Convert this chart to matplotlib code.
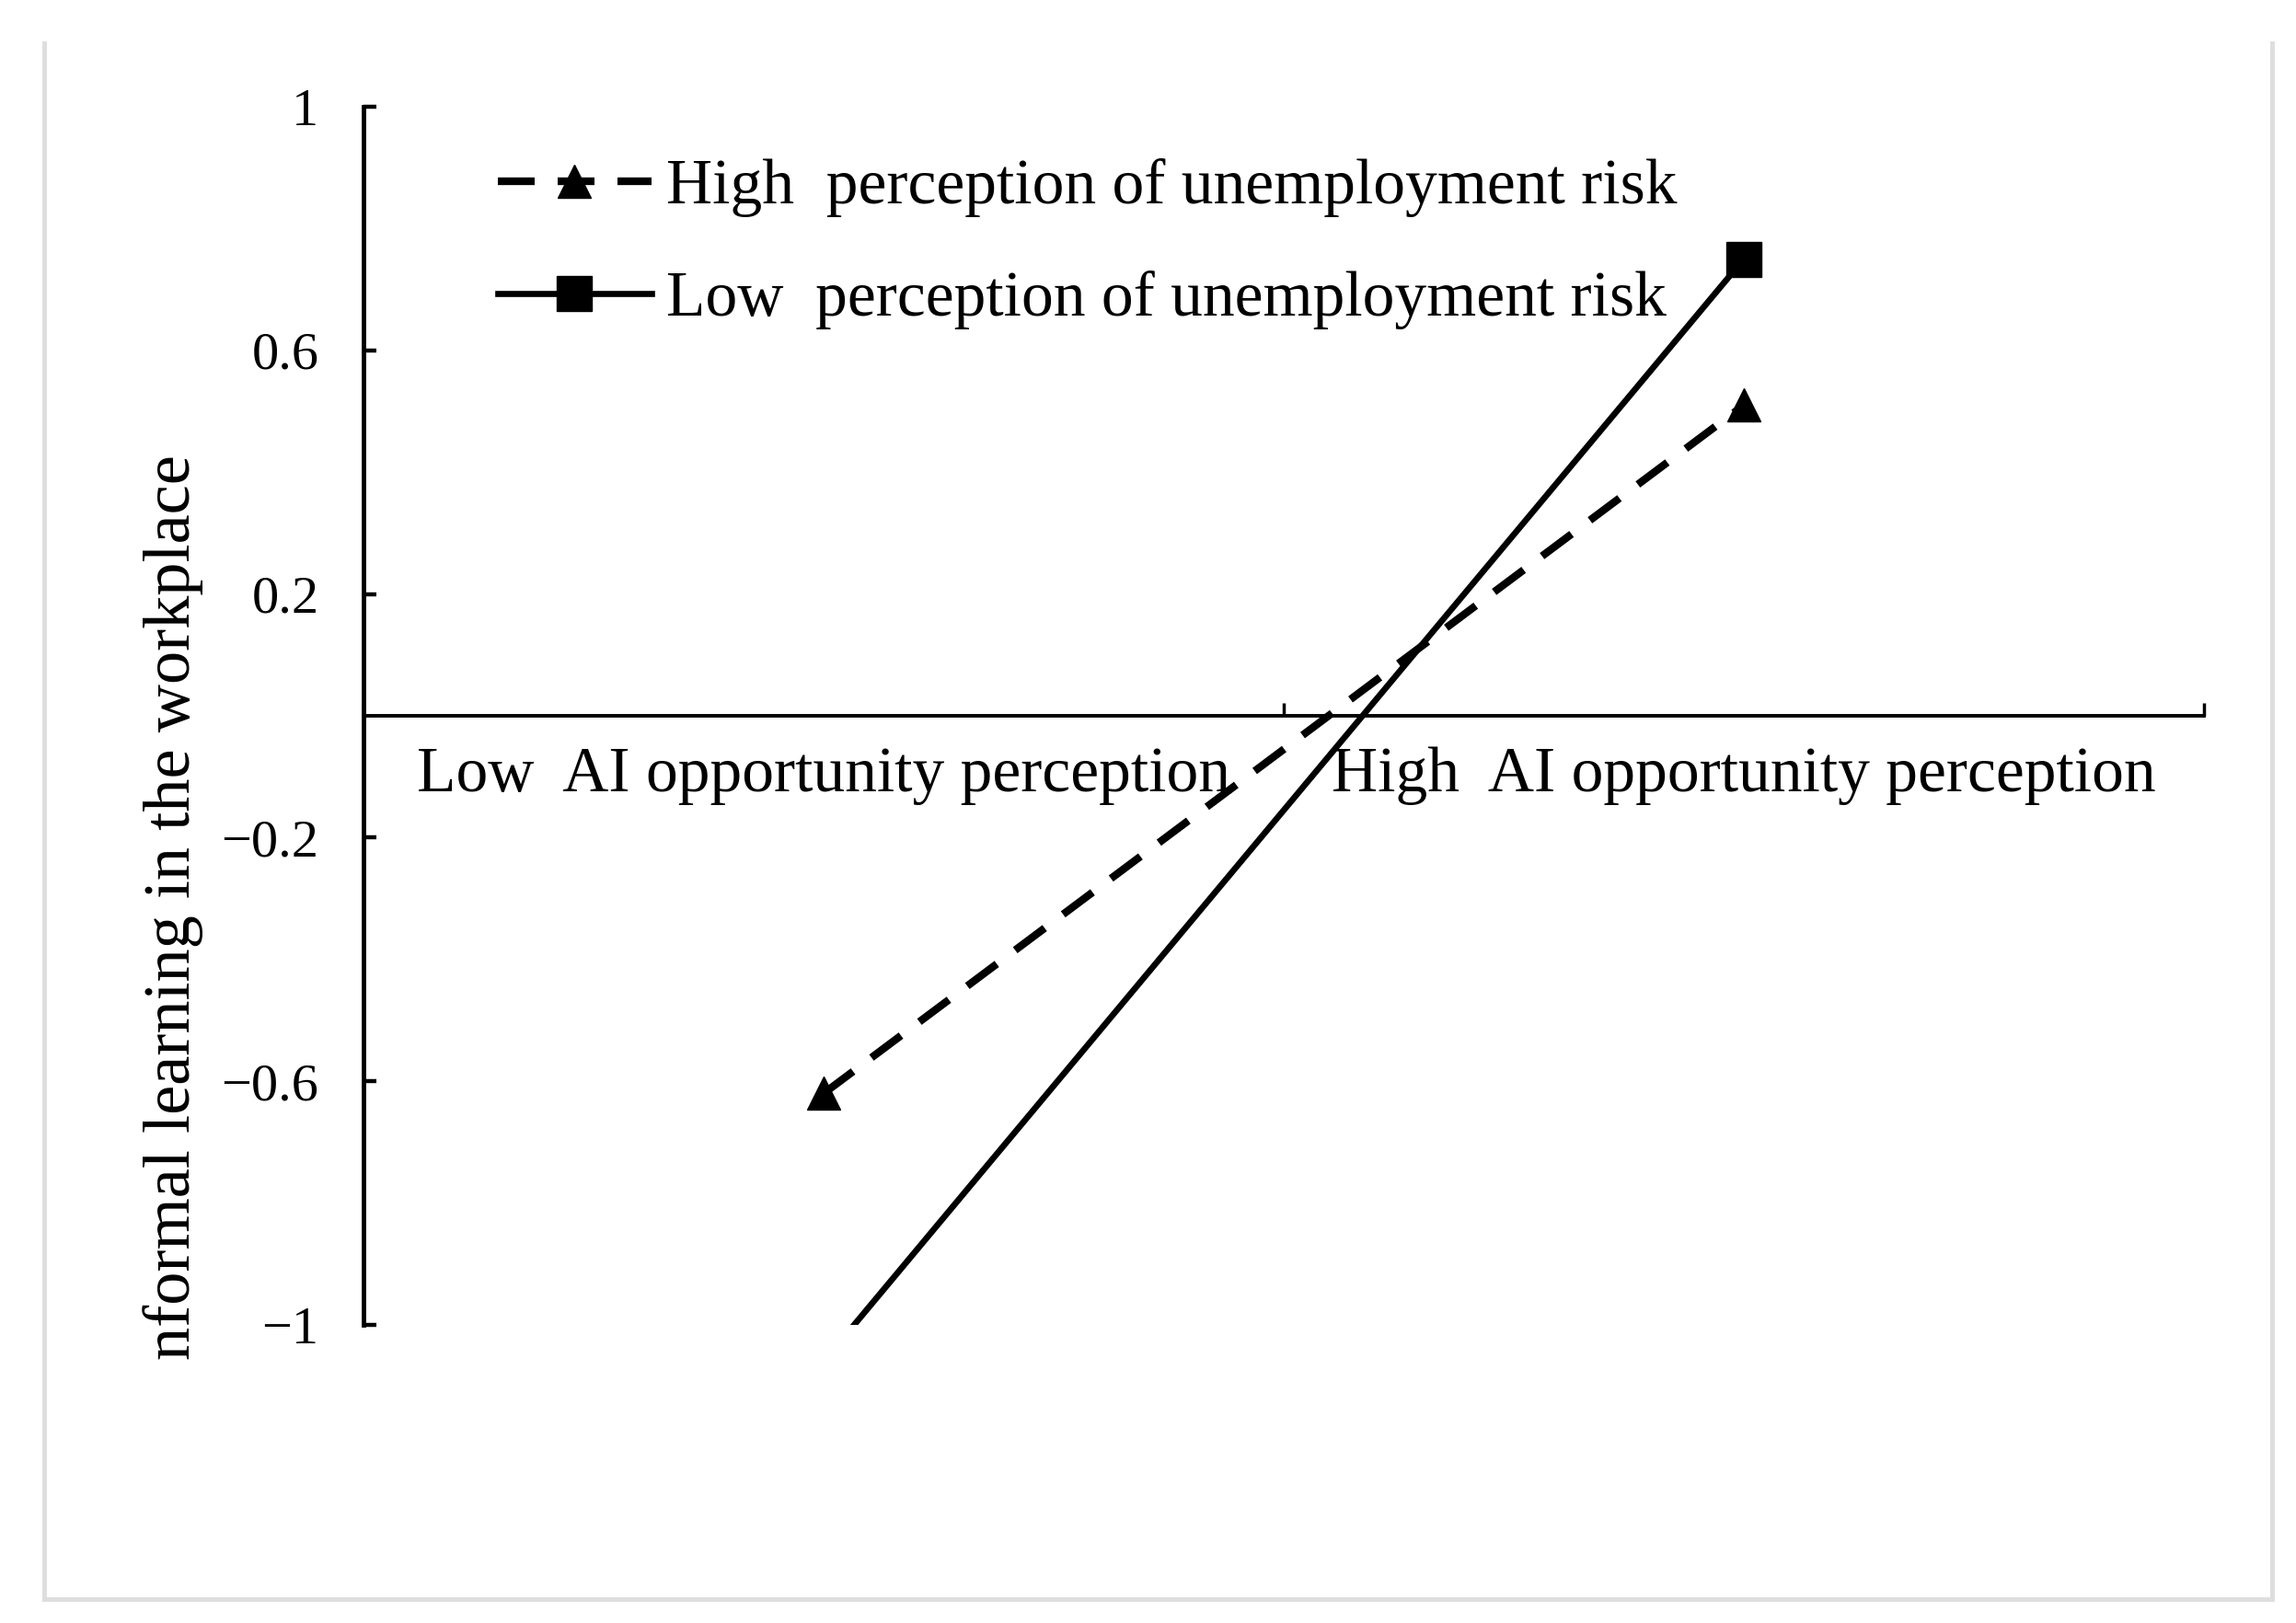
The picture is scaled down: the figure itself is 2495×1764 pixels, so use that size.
import numpy as np
import matplotlib.pyplot as plt
from matplotlib.lines import Line2D

# data
categories = ['Low  AI opportunity perception', 'High  AI opportunity perception']
series_names = ['High  perception of unemployment risk',
                'Low  perception of unemployment risk']
high_risk = [-0.62, 0.51]
low_risk = [-1.06, 0.75]
y_ticks = [-1, -0.6, -0.2, 0.2, 0.6, 1]
y_label = 'nformal learning in the workplace'

plt.rcParams['font.family'] = ['Liberation Serif', 'DejaVu Serif']

W, H = 2495, 1764
fig = plt.figure(figsize=(W / 100, H / 100), dpi=100)
ax = fig.add_axes([395 / W, 1 - 1440 / H, 2000 / W, 1324 / H])

x = np.arange(len(categories))
ax.plot(x, high_risk, color='black', lw=6, dashes=(4.8, 3),
        marker='^', ms=26, label=series_names[0])
ax.plot(x, low_risk, color='black', lw=4.8,
        marker='s', ms=27, label=series_names[1])

ax.set_xlim(-0.5, 1.5)
ax.set_ylim(-1, 1)

for s in ['top', 'right']:
    ax.spines[s].set_visible(False)
ax.spines['bottom'].set_position(('data', 0))
ax.spines['left'].set_linewidth(3.5)
ax.spines['bottom'].set_linewidth(2.8)

# category boundaries as major ticks, names on minor ticks
ax.set_xticks([-0.5, 0.5, 1.5])
ax.set_xticklabels([])
ax.set_xticks(x, minor=True)
ax.set_xticklabels(categories, minor=True, fontsize=50)
ax.tick_params(axis='x', which='major', direction='in', length=10, width=2.5)
ax.tick_params(axis='x', which='minor', length=0, pad=24)

ax.set_yticks(y_ticks)
ax.set_yticklabels([f'{v:g}'.replace('-', '\u2212') for v in y_ticks])
ax.tick_params(axis='y', direction='in', length=10, width=3.2, pad=35, labelsize=42)

ax.legend(loc='upper left', bbox_to_anchor=(541 / W, 1 - 172 / H),
          bbox_transform=fig.transFigure, frameon=False, fontsize=50,
          handlelength=2.4, handletextpad=0.23, labelspacing=0.84,
          borderpad=0, borderaxespad=0)

fig.text(188 / W, 1 - 986 / H, y_label, rotation=90, ha='center', va='center',
         fontsize=52)

# light grey frame (no top edge in the reference)
bc = '#dedede'
fig.add_artist(Line2D([48 / W, 48 / W], [1 - 47 / H, 1 - 1738 / H],
                      transform=fig.transFigure, color=bc, lw=3.6))
fig.add_artist(Line2D([48 / W, 2469 / W], [1 - 1738 / H, 1 - 1738 / H],
                      transform=fig.transFigure, color=bc, lw=3.6))
fig.add_artist(Line2D([2469 / W, 2469 / W], [1 - 47 / H, 1 - 1738 / H],
                      transform=fig.transFigure, color=bc, lw=3.6))

fig.savefig('out.png', dpi=100)
